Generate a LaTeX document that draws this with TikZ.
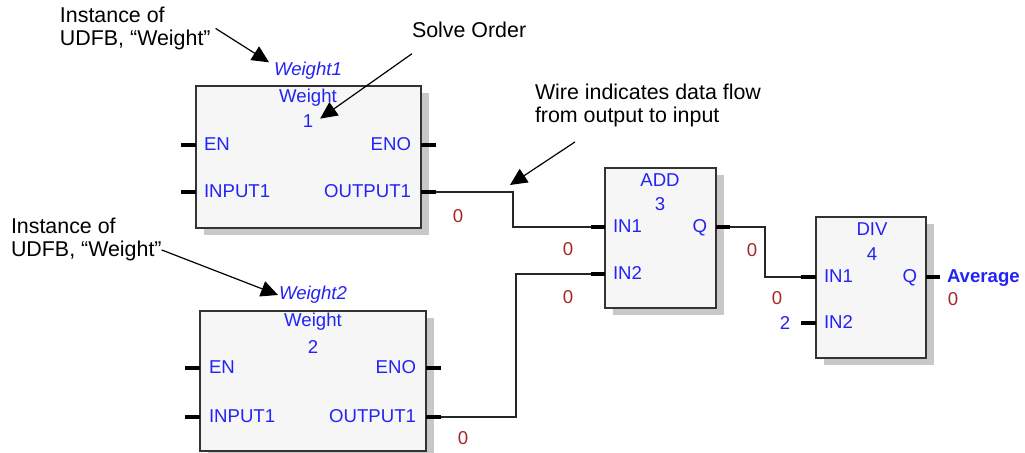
\documentclass[tikz,border=0pt]{standalone}
\usepackage{fontspec}
\setmainfont{Liberation Sans}
\usepackage{xcolor}
\usetikzlibrary{arrows.meta,shadows,positioning}

\definecolor{pinblue}{RGB}{35,35,245}
\definecolor{valred}{RGB}{165,40,40}
\definecolor{blockfill}{RGB}{246,246,246}
\definecolor{shadowgray}{RGB}{200,200,200}

\begin{document}
\begin{tikzpicture}[
		x=0.5pt, y=-0.5pt,
		>={Triangle[length=8.5pt,width=8pt]},
		every node/.style = {inner sep=0pt, outer sep=0pt},
		fblock/.style = {draw=black!80, line width=0.75pt, fill=blockfill, anchor=north west,
			drop shadow={shadow xshift=3.75pt, shadow yshift=-3.75pt, fill=shadowgray, opacity=1}},
		pinlbl/.style = {text=pinblue, font=\fontsize{9.3}{10}\selectfont},
		value/.style = {text=valred, font=\fontsize{9.3}{10}\selectfont},
		note/.style = {align=left, anchor=north west, font=\fontsize{10.7}{11.5}\selectfont},
		stub/.style = {line width=2pt},
		wire/.style = {line width=0.6pt, black!85},
		callout/.style = {->, line width=0.6pt}
		]
		\useasboundingbox (0,0) rectangle (1025,453);
		
		% Blocks --------------------------------------------------------
		\node[fblock, minimum width=112.5pt, minimum height=71pt] (w1) at (196,86) {};
		\node[fblock, minimum width=113pt, minimum height=70pt] (w2) at (200,311) {};
		\node[fblock, minimum width=55.5pt, minimum height=70pt] (add) at (605,168) {};
		\node[fblock, minimum width=55pt, minimum height=70.5pt] (div) at (816,217) {};
		
		% Block texts ---------------------------------------------------
		\node[pinlbl, font=\fontsize{9.3}{10}\selectfont\itshape] (w1name) at (308,71) {Weight1};
		\node[pinlbl] (w1type) at (308,98) {Weight};
		\node[pinlbl] (w1ord) at (308,121) {1};
		\node[pinlbl, anchor=mid west] (w1en) at (204,145) {EN};
		\node[pinlbl, anchor=mid east] (w1eno) at (411,145) {ENO};
		\node[pinlbl, anchor=mid west] (w1inp) at (204,192) {INPUT1};
		\node[pinlbl, anchor=mid east] (w1outp) at (411,192) {OUTPUT1};
		
		\node[pinlbl, font=\fontsize{9.3}{10}\selectfont\itshape] (w2name) at (313,295) {Weight2};
		\node[pinlbl] (w2type) at (313,322) {Weight};
		\node[pinlbl] (w2ord) at (313,347) {2};
		\node[pinlbl, anchor=mid west] (w2en) at (209,368) {EN};
		\node[pinlbl, anchor=mid east] (w2eno) at (416,368) {ENO};
		\node[pinlbl, anchor=mid west] (w2inp) at (209,417) {INPUT1};
		\node[pinlbl, anchor=mid east] (w2outp) at (416,417) {OUTPUT1};
		
		\node[pinlbl] (addname) at (660,180) {ADD};
		\node[pinlbl] (addord) at (660,204) {3};
		\node[pinlbl, anchor=mid west] (addin1) at (613,227) {IN1};
		\node[pinlbl, anchor=mid west] (addin2) at (613,274) {IN2};
		\node[pinlbl, anchor=mid east] (addq) at (707,227) {Q};
		
		\node[pinlbl] (divname) at (872,229) {DIV};
		\node[pinlbl] (divord) at (872,254) {4};
		\node[pinlbl, anchor=mid west] (divin1) at (824,277) {IN1};
		\node[pinlbl, anchor=mid west] (divin2) at (824,323) {IN2};
		\node[pinlbl, anchor=mid east] (divq) at (917,277) {Q};
		
		% Pins ----------------------------------------------------------
		\coordinate (w1-en) at (181,145);
		\coordinate (w1-in) at (181,192);
		\coordinate (w1-eno) at (436,145);
		\coordinate (w1-out) at (436,192);
		\coordinate (w2-en) at (185,368);
		\coordinate (w2-in) at (185,417);
		\coordinate (w2-eno) at (441,368);
		\coordinate (w2-out) at (441,417);
		\coordinate (add-in1) at (591,227);
		\coordinate (add-in2) at (591,274);
		\coordinate (add-out) at (730,227);
		\coordinate (div-in1) at (801,277);
		\coordinate (div-in2) at (801,323);
		\coordinate (div-out) at (940,277);
		
		\draw[stub] (w1-en) -- (w1-en -| w1.west);
		\draw[stub] (w1-in) -- (w1-in -| w1.west);
		\draw[stub] (w1-eno) -- (w1-eno -| w1.east);
		\draw[stub] (w1-out) -- (w1-out -| w1.east);
		\draw[stub] (w2-en) -- (w2-en -| w2.west);
		\draw[stub] (w2-in) -- (w2-in -| w2.west);
		\draw[stub] (w2-eno) -- (w2-eno -| w2.east);
		\draw[stub] (w2-out) -- (w2-out -| w2.east);
		\draw[stub] (add-in1) -- (add-in1 -| add.west);
		\draw[stub] (add-in2) -- (add-in2 -| add.west);
		\draw[stub] (add-out) -- (add-out -| add.east);
		\draw[stub] (div-in1) -- (div-in1 -| div.west);
		\draw[stub] (div-in2) -- (div-in2 -| div.west);
		\draw[stub] (div-out) -- (div-out -| div.east);
		
		% Wires ---------------------------------------------------------
		\coordinate (bend1) at (513,192);
		\draw[wire] (w1-out) -- (bend1) |- (add-in1);
		\draw[wire] (w2-out) -- ++(75,0) |- (add-in2);
		\draw[wire] (add-out) -- ++(35,0) |- (div-in1);
		
		% Values --------------------------------------------------------
		\node[value] (v1) at (458,216) {0};
		\node[value] (v2) at (568,249) {0};
		\node[value] (v3) at (568,297) {0};
		\node[value] (v4) at (752,250) {0};
		\node[value] (v5) at (777,298) {0};
		\node[value] (v6) at (953,299) {0};
		\node[value] (v7) at (463,438) {0};
		\node[pinlbl] (k2) at (785,323) {2};
		\node[pinlbl, anchor=mid west, font=\fontsize{9.3}{10}\selectfont\bfseries] (avg) at (947,277) {Average};
		
		% Callouts ------------------------------------------------------
		\node[note] (inst1) at (60,7) {Instance of\\UDFB, “Weight”};
		\node[note] (solve) at (412,22) {Solve Order};
		\node[note] (inst2) at (11,218) {Instance of\\UDFB, “Weight”};
		\node[note] (wirenote) at (535,84) {Wire indicates data flow\\from output to input};
		
		\draw[callout] ([xshift=2.5pt]inst1.east) -- ([xshift=-2.5pt]w1name.north west);
		\draw[callout] ([yshift=-8pt]solve.south west) -- ([shift={(3.5pt,-2pt)}]w1ord.north east);
		\draw[callout] ([yshift=5.5pt]inst2.south east) -- ([xshift=-0.5pt]w2name.west);
		\draw[callout] ([shift={(20pt,-7.5pt)}]wirenote.south west) -- ([shift={(-1.5pt,3.5pt)}]bend1);
\end{tikzpicture}
\end{document}
